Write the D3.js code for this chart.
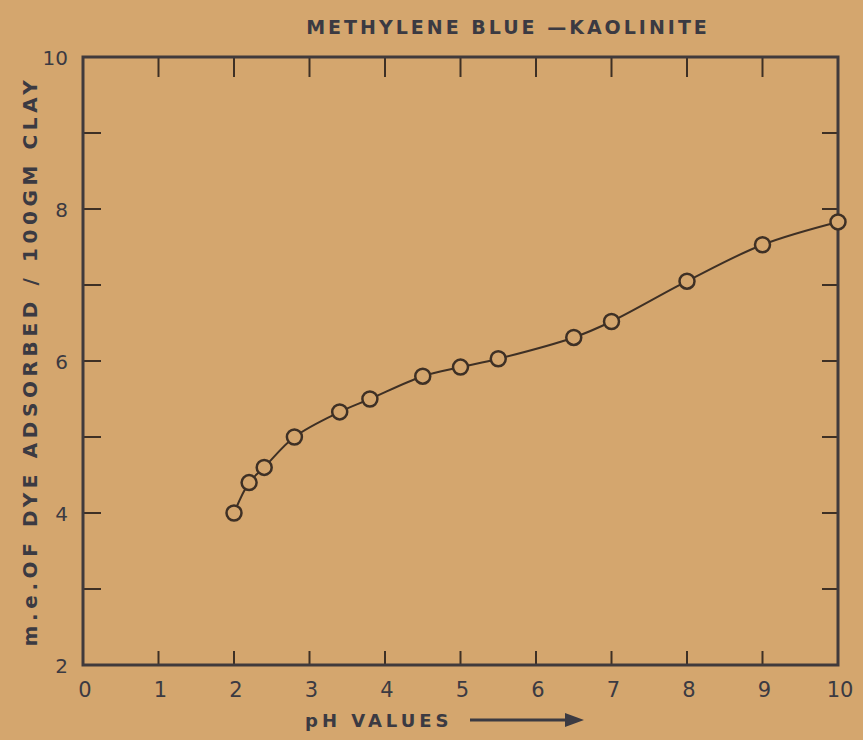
<!DOCTYPE html>
<html>
<head>
<meta charset="utf-8">
<script src="https://cdn.jsdelivr.net/npm/d3@7"></script>
<style>
  html, body { margin: 0; padding: 0; background: #d4a66e; }
  svg { display: block; }
  text { font-family: "DejaVu Sans", sans-serif; font-weight: bold; fill: #3b3a42; }
</style>
</head>
<body>
<div id="chart"></div>
<script>
// pH values and adsorption (m.e. / 100 gm clay)
const phValues = [2, 2.2, 2.4, 2.8, 3.4, 3.8, 4.5, 5, 5.5, 6.5, 7, 8, 9, 10];
const dyeAdsorbed = [4.0, 4.4, 4.6, 5.0, 5.33, 5.5, 5.8, 5.92, 6.03, 6.31, 6.52, 7.05, 7.53, 7.83];
const xTickValues = [0, 1, 2, 3, 4, 5, 6, 7, 8, 9, 10];
const yTickValues = [2, 3, 4, 5, 6, 7, 8, 9, 10];
const yTickLabels = [2, 4, 6, 8, 10];

const width = 863, height = 740;
const margin = { top: 57, right: 25, bottom: 75, left: 83 };
const ink = '#3b3a42', lineInk = '#3e3025';

const svg = d3.select('#chart').append('svg')
    .attr('width', width)
    .attr('height', height);

const x = d3.scaleLinear().domain([0, 10]).range([margin.left, width - margin.right]);
const y = d3.scaleLinear().domain([2, 10]).range([height - margin.bottom, margin.top]);

// frame ticks (drawn inward on all four sides)
const inner = xTickValues.slice(1, -1);
const innerY = yTickValues.slice(1, -1);

svg.append('g').selectAll('line.tb')
    .data(inner).enter().append('line')
    .attr('x1', d => x(d)).attr('x2', d => x(d))
    .attr('y1', y(2)).attr('y2', y(2) - 14)
    .attr('stroke', lineInk).attr('stroke-width', 2);

svg.append('g').selectAll('line.tt')
    .data(inner).enter().append('line')
    .attr('x1', d => x(d)).attr('x2', d => x(d))
    .attr('y1', y(10)).attr('y2', y(10) + 20)
    .attr('stroke', lineInk).attr('stroke-width', 2);

svg.append('g').selectAll('line.tl')
    .data(innerY).enter().append('line')
    .attr('x1', x(0)).attr('x2', x(0) + 18)
    .attr('y1', d => y(d)).attr('y2', d => y(d))
    .attr('stroke', lineInk).attr('stroke-width', 2);

svg.append('g').selectAll('line.tr')
    .data(innerY).enter().append('line')
    .attr('x1', x(10)).attr('x2', x(10) - 16)
    .attr('y1', d => y(d)).attr('y2', d => y(d))
    .attr('stroke', lineInk).attr('stroke-width', 2);

// frame
svg.append('rect')
    .attr('x', x(0)).attr('y', y(10))
    .attr('width', x(10) - x(0)).attr('height', y(2) - y(10))
    .attr('fill', 'none')
    .attr('stroke', '#403a3c').attr('stroke-width', 3);

// tick labels
svg.append('g').selectAll('text')
    .data(xTickValues).enter().append('text')
    .attr('x', d => x(d) + 2).attr('y', y(2) + 32)
    .attr('text-anchor', 'middle')
    .style('font-size', '21px').style('font-weight', 'normal')
    .text(d => d);

svg.append('g').selectAll('text')
    .data(yTickLabels).enter().append('text')
    .attr('x', x(0) - 15).attr('y', d => y(d) + 8)
    .attr('text-anchor', 'end')
    .style('font-size', '20px').style('font-weight', 'normal')
    .text(d => d);

// curve
const pts = phValues.map((p, i) => [p, dyeAdsorbed[i]]);
const line = d3.line()
    .x(d => x(d[0]))
    .y(d => y(d[1]))
    .curve(d3.curveCatmullRom.alpha(0.5));

svg.append('path')
    .datum(pts)
    .attr('d', line)
    .attr('fill', 'none')
    .attr('stroke', lineInk)
    .attr('stroke-width', 2);

svg.append('g').selectAll('circle')
    .data(pts).enter().append('circle')
    .attr('cx', d => x(d[0])).attr('cy', d => y(d[1]))
    .attr('r', 7.5)
    .attr('fill', '#d4a66e')
    .attr('stroke', lineInk)
    .attr('stroke-width', 2.5);

// titles
svg.append('text')
    .attr('x', 508).attr('y', 34)
    .attr('text-anchor', 'middle')
    .style('font-size', '19px').style('letter-spacing', '3px')
    .text('METHYLENE  BLUE \u2014KAOLINITE');

svg.append('text')
    .attr('transform', `translate(37,${(y(2) + y(10)) / 2}) rotate(-90)`)
    .attr('text-anchor', 'middle')
    .style('font-size', '20px').style('letter-spacing', '4.6px')
    .text('m.e.OF DYE  ADSORBED / 100GM  CLAY');

const xt = svg.append('g');
xt.append('text')
    .attr('x', 305).attr('y', 727)
    .style('font-size', '18px').style('letter-spacing', '4px')
    .text('pH  VALUES');
xt.append('line')
    .attr('x1', 470).attr('x2', 570)
    .attr('y1', 720).attr('y2', 720)
    .attr('stroke', ink).attr('stroke-width', 3);
xt.append('path')
    .attr('d', 'M565,713 L584,720 L565,727 Z')
    .attr('fill', ink);
</script>
</body>
</html>
